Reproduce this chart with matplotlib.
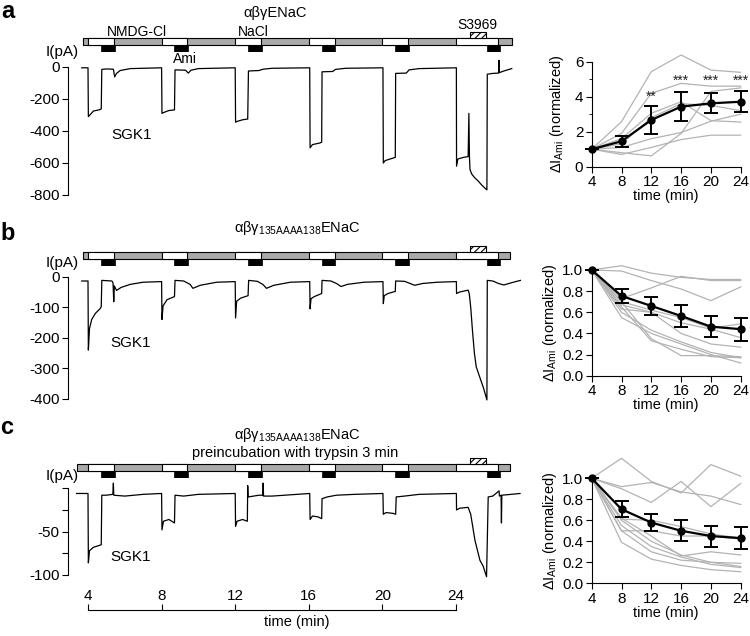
import matplotlib
matplotlib.use('Agg')
import matplotlib.pyplot as plt
from matplotlib.patches import Rectangle

plt.rcParams['font.family'] = ['Liberation Sans', 'DejaVu Sans']
plt.rcParams['mathtext.fontset'] = 'custom'
plt.rcParams['mathtext.rm'] = 'Liberation Sans'
plt.rcParams['mathtext.it'] = 'Liberation Sans:italic'
plt.rcParams['hatch.linewidth'] = 0.8

# ---- protocol (min) ----
nacl_on = [4.0, 8.0, 12.0, 16.0, 20.0, 24.0]
nacl_off = [5.4, 9.4, 13.4, 17.4, 21.4, 26.3]
ami_on = [4.7, 8.7, 12.7, 16.7, 20.7, 25.7]
ami_off = [5.45, 9.45, 13.45, 17.4, 21.45, 26.4]
s3969 = [24.75, 25.65]
time_ticks = [4, 8, 12, 16, 20, 24]

# ---- current traces (min, pA) ----
trace_a_t = [3.66, 4.0, 4.02, 4.1, 4.3, 4.6, 4.72, 4.75, 5.0, 5.38, 5.45, 5.55, 5.75, 6.3, 8.0,
             8.02, 8.1, 8.4, 8.7, 8.73, 9.3, 9.45, 9.6, 10.0, 12.0,
             12.02, 12.1, 12.4, 12.68, 12.72, 13.3, 13.5, 14.0, 16.05,
             16.07, 16.2, 16.6, 16.7, 16.72, 17.3, 17.45, 18.0, 20.03,
             20.05, 20.15, 20.5, 20.7, 20.72, 21.3, 21.45, 22.0, 24.02,
             24.03, 24.1, 24.4, 24.66, 24.70, 24.73, 24.76, 24.85, 25.0, 25.2, 25.4, 25.6, 25.68,
             25.70, 26.0, 26.32, 26.34, 26.36, 26.6, 27.03]
trace_a_i = [-5, -5, -310, -300, -275, -268, -262, -15, -12, -14, -62, -40, -22, -10, -5,
             -290, -285, -272, -268, -18, -20, -38, -20, -10, -5,
             -345, -340, -330, -325, -25, -22, -14, -8, -5,
             -505, -485, -475, -470, -30, -28, -15, -8, -5,
             -600, -585, -572, -565, -40, -38, -18, -10, -5,
             -620, -575, -565, -560, -290, -560, -640, -668, -690, -712, -738, -760, -768,
             -45, -40, -38, 42, -35, -25, -10]

trace_b_t = [3.66, 4.0, 4.02, 4.08, 4.2, 4.4, 4.65, 4.72, 4.75, 5.3, 5.36, 5.40, 5.43, 5.55, 5.8, 6.3, 7.0, 8.0,
             8.02, 8.08, 8.3, 8.7, 8.73, 9.2, 9.55, 9.7, 10.1, 11.0, 12.0,
             12.02, 12.08, 12.3, 12.7, 12.73, 13.2, 13.5, 13.7, 14.1, 15.0, 16.05,
             16.07, 16.12, 16.3, 16.7, 16.72, 17.2, 17.5, 17.75, 18.1, 19.0, 20.03,
             20.05, 20.1, 20.3, 20.7, 20.72, 21.2, 21.5, 21.75, 22.2, 23.0, 24.02,
             24.03, 24.2, 24.66, 24.72, 24.8, 24.9, 25.0, 25.1, 25.3, 25.5, 25.68,
             25.70, 26.0, 26.3, 26.6, 27.0, 27.5]
trace_b_i = [-14, -14, -240, -170, -140, -120, -105, -98, -12, -14, -20, -82, -30, -45, -35, -25, -18, -16,
             -140, -95, -75, -65, -12, -14, -25, -38, -28, -18, -16,
             -135, -80, -70, -62, -12, -15, -25, -38, -28, -18, -16,
             -105, -72, -65, -55, -12, -14, -22, -32, -25, -18, -16,
             -88, -62, -55, -48, -14, -15, -22, -28, -22, -18, -16,
             -55, -50, -44, -55, -100, -180, -250, -295, -330, -365, -403,
             -12, -14, -22, -27, -20, -12]

trace_c_t = [3.38, 4.0, 4.02, 4.08, 4.3, 4.6, 4.72, 4.75, 5.0, 5.35, 5.38, 5.40, 6.0, 7.0, 8.0,
             8.02, 8.1, 8.4, 8.7, 8.73, 9.2, 10.0, 12.0,
             12.02, 12.1, 12.4, 12.66, 12.68, 12.70, 13.3, 13.5, 13.52, 13.54, 14.0, 16.05,
             16.07, 16.2, 16.5, 16.7, 16.72, 17.0, 17.5, 18.5, 20.03,
             20.05, 20.2, 20.6, 20.72, 20.75, 21.2, 22.0, 24.02,
             24.03, 24.2, 24.66, 24.8, 25.03, 25.3, 25.48, 25.66, 25.75,
             26.0, 26.34, 26.36, 26.45, 26.47, 26.49, 27.0, 27.48]
trace_c_i = [-6, -6, -86, -72, -68, -66, -65, -8, -8, -7, 6, -8, -9, -7, -6,
             -48, -38, -36, -40, -8, -9, -7, -6,
             -44, -38, -36, -38, 3, -10, -8, -8, 6, -9, -9, -6,
             -36, -32, -33, -35, -12, -10, -8, -7, -6,
             -30, -28, -29, -30, -10, -9, -7, -6,
             -25, -23, -22, -30, -60, -83, -90, -102, -10,
             -9, -3, -9, -8, -40, -8, -7, -6]

# ---- normalized amiloride-sensitive current ----
t_sum = [4, 8, 12, 16, 20, 24]

a_lines = [[1, 2.57, 5.43, 6.38, 5.52, 5.39],
           [1, 1.9, 4.19, 4.76, 4.6, 4.6],
           [1, 0.8, 0.62, 1.9, 4.3, 4.5],
           [1, 1.6, 3.05, 3.71, 2.63, 2.55],
           [1, 1.1, 1.6, 1.95, 2.6, 3.0],
           [1, 0.7, 1.1, 1.55, 1.8, 1.8],
           [1, 1.3, 2.8, 3.6, 3.5, 3.2]]
a_mean = [1.0, 1.45, 2.67, 3.43, 3.62, 3.71]
a_sem = [0, 0.33, 0.78, 0.81, 0.57, 0.6]
a_stars = ['', '', '**', '***', '***', '***']
a_star_y = [0, 0, 4.0, 4.9, 4.9, 4.9]

b_lines = [[1, 1.04, 0.97, 0.93, 0.91, 0.91],
           [1, 0.99, 0.9, 0.82, 0.71, 0.84],
           [1, 0.73, 0.83, 0.94, 0.9, 0.9],
           [1, 0.7, 0.62, 0.55, 0.45, 0.49],
           [1, 0.67, 0.6, 0.5, 0.44, 0.36],
           [1, 0.63, 0.6, 0.4, 0.3, 0.27],
           [1, 0.6, 0.43, 0.32, 0.22, 0.17],
           [1, 0.55, 0.4, 0.3, 0.2, 0.12],
           [1, 0.7, 0.35, 0.19, 0.19, 0.18],
           [1, 0.65, 0.33, 0.25, 0.18, 0.17]]
b_mean = [1.0, 0.754, 0.66, 0.565, 0.464, 0.44]
b_sem = [0, 0.07, 0.087, 0.105, 0.1, 0.11]

c_lines = [[1, 1.19, 0.97, 0.86, 1.13, 1.02],
           [1, 0.9, 0.77, 0.97, 0.73, 0.95],
           [1, 0.92, 0.96, 0.87, 0.83, 0.75],
           [1, 0.61, 0.6, 0.54, 0.47, 0.43],
           [1, 0.5, 0.5, 0.45, 0.45, 0.42],
           [1, 0.62, 0.45, 0.26, 0.3, 0.27],
           [1, 0.6, 0.4, 0.27, 0.2, 0.19],
           [1, 0.5, 0.3, 0.22, 0.2, 0.16],
           [1, 0.39, 0.23, 0.17, 0.13, 0.11],
           [1, 0.55, 0.35, 0.25, 0.18, 0.15]]
c_mean = [1.0, 0.705, 0.578, 0.5, 0.45, 0.43]
c_sem = [0, 0.075, 0.083, 0.1, 0.1, 0.105]

W, H = 750, 636
T0, T1 = 2.913, 27.75
fig = plt.figure(figsize=(W / 100, H / 100), dpi=100)
FS = 10.5
TFS = 11


def add_ax(l, t, r, b):
    return fig.add_axes([l / W, 1 - b / H, (r - l) / W, (b - t) / H])


def put(x, y, s, **kw):
    kw.setdefault('fontsize', FS)
    fig.text(x / W, 1 - y / H, s, ha='center', va='center', **kw)


def trace_panel(top, bottom, t, cur, ylim, yticks, ylabels):
    ax = add_ax(68, top, 525, bottom)
    ax.plot(t, cur, color='black', lw=0.9, clip_on=False)
    ax.set_xlim(T0, T1)
    ax.set_ylim(*ylim)
    for s in ['top', 'right', 'bottom']:
        ax.spines[s].set_visible(False)
    ax.spines['left'].set_bounds(min(yticks), max(yticks))
    ax.set_yticks(yticks)
    ax.set_yticklabels(ylabels)
    ax.set_xticks([])
    ax.tick_params(axis='y', length=4, pad=2, labelsize=TFS)
    ax.patch.set_visible(False)
    return ax


def protocol(top, bottom, start, end):
    ax = add_ax(68, top, 525, bottom)
    ax.set_xlim(T0, T1)
    ax.set_ylim(0, 3)
    ax.axis('off')
    ax.add_patch(Rectangle((start, 1), end - start, 1, fc='#a9a9a9', ec='black', lw=0.8))
    for on, off in zip(nacl_on, nacl_off):
        ax.add_patch(Rectangle((on, 1), off - on, 1, fc='white', ec='black', lw=0.8))
    for on, off in zip(ami_on, ami_off):
        ax.add_patch(Rectangle((on, 0), off - on, 1, fc='black', ec='black', lw=0.5))
    ax.add_patch(Rectangle((s3969[0], 2), s3969[1] - s3969[0], 0.9, fc='white',
                           ec='black', lw=0.8, hatch='/////'))


def summary(top, bottom, ymax, ytop, yticks, lines, mean, sem, fmt, lab_x, minor=None):
    ax = add_ax(591.7, top, 740.7, bottom)
    for ln in lines:
        ax.plot(t_sum, ln, color='#b3b3b3', lw=0.9, clip_on=False)
    ax.errorbar(t_sum, mean, yerr=sem, color='black', lw=1.6, marker='o', ms=5,
                capsize=5, capthick=1.4, elinewidth=1.4, clip_on=False, zorder=5)
    ax.set_xlim(4, 24)
    ax.set_ylim(0, ymax)
    for s in ['top', 'right']:
        ax.spines[s].set_visible(False)
    ax.spines['left'].set_bounds(0, ytop)
    ax.set_xticks(t_sum)
    ax.set_yticks(yticks)
    ax.set_yticklabels([fmt.format(v) for v in yticks])
    if minor is not None:
        ax.set_yticks(minor, minor=True)
        ax.tick_params(axis='y', which='minor', length=2.5)
    ax.tick_params(length=4, pad=2, labelsize=TFS)
    ax.set_xlabel('time (min)', fontsize=FS, labelpad=0)
    ax.set_ylabel(r'$\Delta$I$_{\mathrm{Ami}}$ (normalized)', fontsize=FS)
    ax.yaxis.set_label_coords((lab_x - 591.7) / 149, 0.5 * ytop / ymax)
    ax.patch.set_visible(False)
    return ax


# ---------------- panel a ----------------
put(8, 12, 'a', fontsize=17, fontweight='bold')
put(275, 13, 'αβγENaC')
put(137, 32, 'NMDG-Cl', fontsize=10)
put(253, 32, 'NaCl', fontsize=10)
put(185, 59, 'Ami', fontsize=10)
put(477, 25, 'S3969', fontsize=10)
put(62, 52, 'I(pA)', fontsize=11)
put(132, 135, 'SGK1', fontsize=11)
protocol(31, 52, 3.73, 27.04)
trace_panel(59, 195, trace_a_t, trace_a_i, (-800, 50),
            [-800, -600, -400, -200, 0], ['-800', '-600', '-400', '-200', '0'])
ax_a = summary(52.9, 166.7, 6.5, 6, [0, 2, 4, 6], a_lines, a_mean, a_sem, '{:.0f}', 566,
               minor=[1, 3, 5])
for x, s, y in zip(t_sum, a_stars, a_star_y):
    if s:
        ax_a.text(x, y, s, ha='center', va='center', fontsize=10, color='#222222')

# ---------------- panel b ----------------
put(8, 233, 'b', fontsize=17, fontweight='bold')
put(297, 228, r'αβγ$_{\mathrm{135AAAA138}}$ENaC')
put(62, 263, 'I(pA)', fontsize=11)
put(131, 343, 'SGK1', fontsize=11)
protocol(245, 266, 3.73, 26.93)
trace_panel(270.6, 399, trace_b_t, trace_b_i, (-400, 20),
            [-400, -300, -200, -100, 0], ['-400', '-300', '-200', '-100', '0'])
summary(259.4, 375.7, 1.1, 1.0, [0, 0.2, 0.4, 0.6, 0.8, 1.0], b_lines, b_mean, b_sem,
        '{:.1f}', 559)

# ---------------- panel c ----------------
put(7, 428, 'c', fontsize=17, fontweight='bold')
put(297, 435, r'αβγ$_{\mathrm{135AAAA138}}$ENaC')
put(295, 453, 'preincubation with trypsin 3 min')
put(62, 476, 'I(pA)', fontsize=11)
put(131, 557, 'SGK1', fontsize=11)
protocol(457, 478, 3.40, 26.93)
trace_panel(479.6, 575, trace_c_t, trace_c_i, (-100, 10),
            [-100, -75, -50, -25, 0], ['-100', '', '-50', '', ''])
summary(452, 583.3, 1.25, 1.0, [0, 0.2, 0.4, 0.6, 0.8, 1.0], c_lines, c_mean, c_sem,
        '{:.1f}', 559)

# time scale under panel c
axt = add_ax(68, 610, 525, 612)
axt.set_xlim(T0, T1)
axt.set_ylim(0, 1)
for s in ['left', 'right', 'bottom']:
    axt.spines[s].set_visible(False)
axt.spines['top'].set_bounds(4, 24)
axt.xaxis.tick_top()
axt.set_xticks(time_ticks)
axt.set_yticks([])
axt.tick_params(axis='x', length=4, pad=1, labelsize=TFS)
axt.xaxis.set_label_position('bottom')
axt.set_xlabel('time (min)', fontsize=FS, labelpad=2)
axt.patch.set_visible(False)

fig.savefig('out.png', dpi=100)
